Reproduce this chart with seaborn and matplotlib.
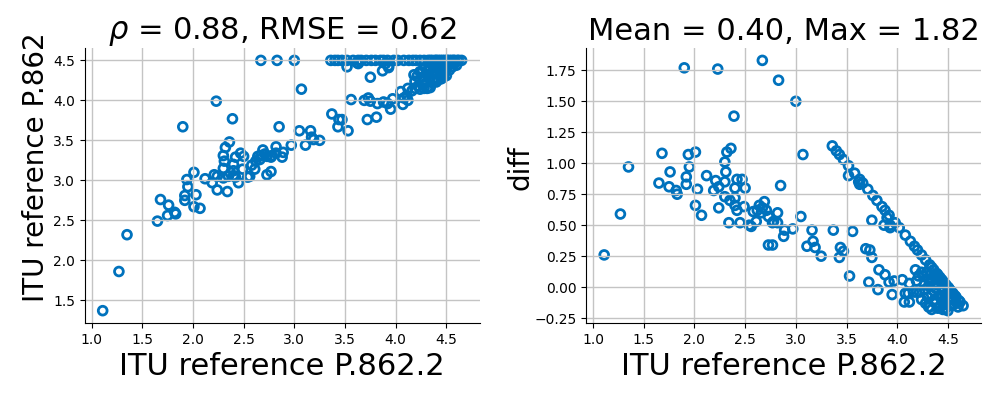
import numpy as np
import pandas as pd
import seaborn as sns
import matplotlib.pyplot as plt
from matplotlib.ticker import MultipleLocator

# ITU reference scores (P.862.2 on x, P.862 on y)
p862_2 = [
    1.11, 1.27, 1.35,
    1.65, 1.68, 1.76, 1.75, 1.82, 1.83, 1.90, 1.94, 1.95, 1.92, 1.92, 2.01, 2.03, 2.01, 2.07,
    2.12, 2.21, 2.19, 2.24, 2.23, 2.30, 2.31, 2.30, 2.32, 2.36, 2.42, 2.40, 2.50, 2.30, 2.35,
    2.40, 2.24, 2.40, 2.42, 2.49, 2.34, 2.45, 2.54, 2.39, 2.47,
    2.64, 2.69, 2.67, 2.71, 2.62, 2.66, 2.73, 2.78, 2.82, 2.58, 2.61, 2.56, 2.85, 3.05, 2.77,
    2.82, 2.89, 2.88, 2.97, 3.16, 3.17, 3.37, 3.56, 2.73, 2.77, 3.11, 3.19, 3.69, 3.73, 3.75,
    3.25, 3.44, 3.47, 3.43, 3.53, 3.82, 3.88, 3.92, 3.97, 3.72, 3.81, 3.95, 4.05, 4.08, 4.12,
    4.18, 4.19, 4.19, 3.07, 3.87, 3.93, 3.75, 3.90, 3.52, 3.62, 3.63, 3.93,
    2.67, 2.83, 3.00, 3.36, 3.40, 3.43, 3.47, 3.52, 3.58, 3.63, 3.66, 3.71, 3.76, 3.80, 3.85,
    3.88, 3.92, 3.98, 4.02, 4.08, 4.13, 4.17, 4.20, 4.24, 4.28, 4.32, 4.36, 4.39, 4.42, 4.46,
    4.48, 4.51, 4.55, 4.58, 4.61, 4.65, 4.34, 4.40, 4.44, 4.50, 4.53, 4.57, 4.62,
    4.26, 4.27, 4.31, 4.36, 4.41, 4.37, 4.44, 4.31, 4.34, 4.42, 4.47, 4.50, 4.53, 4.22, 4.16,
    4.24, 4.27, 4.34, 4.39, 4.44, 4.47, 4.50, 4.56, 4.60, 4.29, 4.36, 4.41, 4.31, 4.24, 4.21,
    4.12, 4.11, 4.07, 4.48, 4.44, 4.32, 4.28, 4.38, 4.52, 4.55, 4.46, 4.58, 4.40, 4.45, 4.34,
    4.30, 4.38, 4.33,
]
p862 = [
    1.37, 1.86, 2.32,
    2.49, 2.76, 2.69, 2.56, 2.60, 2.58, 3.67, 3.01, 2.92, 2.81, 2.75, 3.10, 2.82, 2.67, 2.65,
    3.02, 3.07, 2.97, 3.05, 3.99, 3.15, 3.24, 3.31, 3.41, 3.48, 3.29, 3.20, 3.30, 3.03, 3.05,
    3.12, 2.88, 3.06, 3.04, 3.14, 2.86, 2.97, 3.04, 3.77, 3.34,
    3.30, 3.38, 3.31, 3.33, 3.24, 3.26, 3.30, 3.31, 3.42, 3.19, 3.14, 3.05, 3.67, 3.62, 3.29,
    3.34, 3.35, 3.29, 3.44, 3.62, 3.54, 3.83, 4.01, 3.07, 3.11, 3.44, 3.51, 4.00, 4.03, 3.99,
    3.50, 3.76, 3.76, 3.67, 3.62, 3.96, 3.98, 3.96, 4.02, 3.76, 3.79, 3.89, 4.11, 4.03, 4.00,
    4.32, 4.24, 4.15, 4.14, 4.37, 4.43, 4.29, 4.46, 4.42, 4.47, 4.46, 4.41,
    4.50, 4.50, 4.50, 4.50, 4.50, 4.50, 4.50, 4.50, 4.50, 4.50, 4.50, 4.50, 4.50, 4.50, 4.50,
    4.50, 4.50, 4.50, 4.50, 4.50, 4.50, 4.50, 4.50, 4.50, 4.50, 4.50, 4.50, 4.50, 4.50, 4.50,
    4.50, 4.50, 4.50, 4.50, 4.50, 4.50, 4.50, 4.50, 4.50, 4.50, 4.50, 4.50, 4.50,
    4.35, 4.29, 4.32, 4.33, 4.34, 4.27, 4.32, 4.15, 4.16, 4.26, 4.29, 4.31, 4.38, 4.18, 4.12,
    4.14, 4.25, 4.39, 4.41, 4.44, 4.41, 4.40, 4.42, 4.44, 4.41, 4.45, 4.47, 4.37, 4.36, 4.30,
    4.15, 4.06, 3.95, 4.34, 4.36, 4.16, 4.15, 4.25, 4.47, 4.46, 4.43, 4.46, 4.23, 4.27, 4.28,
    4.22, 4.37, 4.43,
]

df = pd.DataFrame({"p862_2": p862_2, "p862": p862})
df["diff"] = df["p862"] - df["p862_2"]

blue = "#0072BD"
fig = plt.figure(figsize=(9.97, 3.99), dpi=100)
ax1 = fig.add_axes([0.085, 0.19, 0.396, 0.69])
ax2 = fig.add_axes([0.588, 0.19, 0.396, 0.69])

for ax, ycol in [(ax1, "p862"), (ax2, "diff")]:
    sns.scatterplot(data=df, x="p862_2", y=ycol, ax=ax, marker="o",
                    facecolors="none", edgecolor=blue, linewidth=2.0, s=40)
    ax.grid(True, color="#c4c4c4", linewidth=1.0)
    ax.xaxis.set_major_locator(MultipleLocator(0.5))
    ax.tick_params(labelsize=10)
    ax.set_xlabel("ITU reference P.862.2", fontsize=22)
    sns.despine(ax=ax)

ax1.yaxis.set_major_locator(MultipleLocator(0.5))
ax2.yaxis.set_major_locator(MultipleLocator(0.25))

ax1.set_ylabel("ITU reference P.862", fontsize=20)
ax2.set_ylabel("diff", fontsize=20)
# labels sit a bit above the axes centre in the reference
ax1.yaxis.set_label_coords(-0.088, 0.565)
ax2.yaxis.set_label_coords(-0.13, 0.565)
ax1.set_title(r"$\rho$ = 0.88, RMSE = 0.62", fontsize=22)
ax2.set_title("Mean = 0.40, Max = 1.82", fontsize=22)

plt.savefig("out.png", dpi=100)
